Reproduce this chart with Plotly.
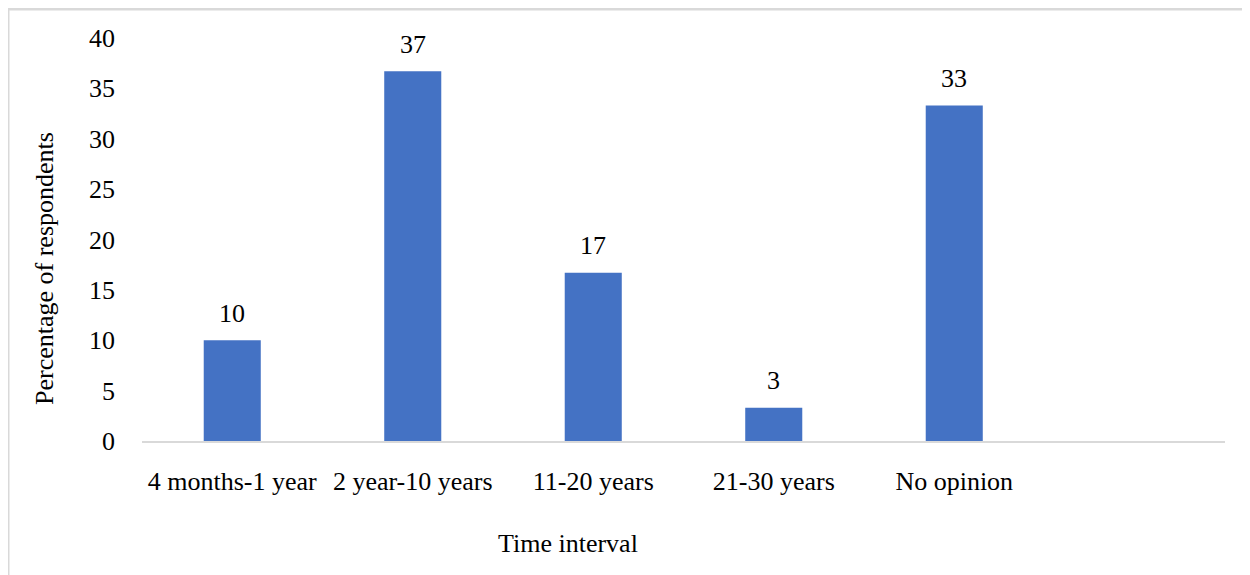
import plotly.graph_objects as go

categories = ["4 months-1 year", "2 year-10 years", "11-20 years", "21-30 years", "No opinion"]
values = [10, 36.7, 16.7, 3.3, 33.3]
y_ticks = [0, 5, 10, 15, 20, 25, 30, 35, 40]

FONT = "Liberation Serif, Times New Roman, serif"
OFF = 8  # page body margin
W, H = 1250 - OFF, 575 - OFF
L, R, T, B = 142 - OFF, 25, 38 - OFF, 134
pw, ph = W - L - R, H - T - B
AX_Y = 441 - OFF  # axis y in figure pixels


def px_x(x):
    return (x - OFF - L) / pw


def px_y(y):
    return (AX_Y - (y - OFF)) / ph


fig = go.Figure()
fig.add_trace(go.Bar(
    x=categories, y=values, width=0.316,
    marker=dict(color="#4472C4", line=dict(width=0)),
    hoverinfo="x+y",
))

for c, v in zip(categories, values):
    fig.add_annotation(x=c, y=v, text=f"{v:.0f}", showarrow=False,
                       yanchor="middle", yshift=27,
                       font=dict(family=FONT, size=26, color="#000000"))

# axis titles
fig.add_annotation(xref="paper", yref="paper", x=px_x(568), y=px_y(543),
                   text="Time interval", showarrow=False, xanchor="center", yanchor="middle",
                   font=dict(family=FONT, size=26, color="#000000"))
fig.add_annotation(xref="paper", yref="paper", x=px_x(44), y=px_y(269),
                   text="Percentage of respondents", textangle=-90, showarrow=False,
                   xanchor="center", yanchor="middle",
                   font=dict(family=FONT, size=26, color="#000000"))

# outer frame (left and top edges visible)
fx = px_x(8)
fy = px_y(9)
fig.add_shape(type="line", xref="paper", yref="paper", x0=fx, x1=fx, y0=fy, y1=px_y(620),
              line=dict(color="#d9d9d9", width=3))
fig.add_shape(type="line", xref="paper", yref="paper", x0=fx, x1=px_x(1300), y0=fy, y1=fy,
              line=dict(color="#d9d9d9", width=3))

fig.update_layout(
    width=W, height=H,
    margin=dict(l=L, r=R, t=T, b=B),
    paper_bgcolor="white", plot_bgcolor="white",
    showlegend=False,
    font=dict(family=FONT, size=26, color="#000000"),
    xaxis=dict(type="category", categoryorder="array", categoryarray=categories,
               range=[-0.5, 5.5], showgrid=False, zeroline=False,
               showline=True, linecolor="#d9d9d9", linewidth=2,
               ticks="", ticklabelstandoff=16,
               tickfont=dict(family=FONT, size=26, color="#000000")),
    yaxis=dict(range=[0, 40], tickvals=y_ticks, showgrid=False, zeroline=False,
               showline=False, ticks="", ticklabelstandoff=26,
               tickfont=dict(family=FONT, size=26, color="#000000")),
)

fig.write_html("out.html")
